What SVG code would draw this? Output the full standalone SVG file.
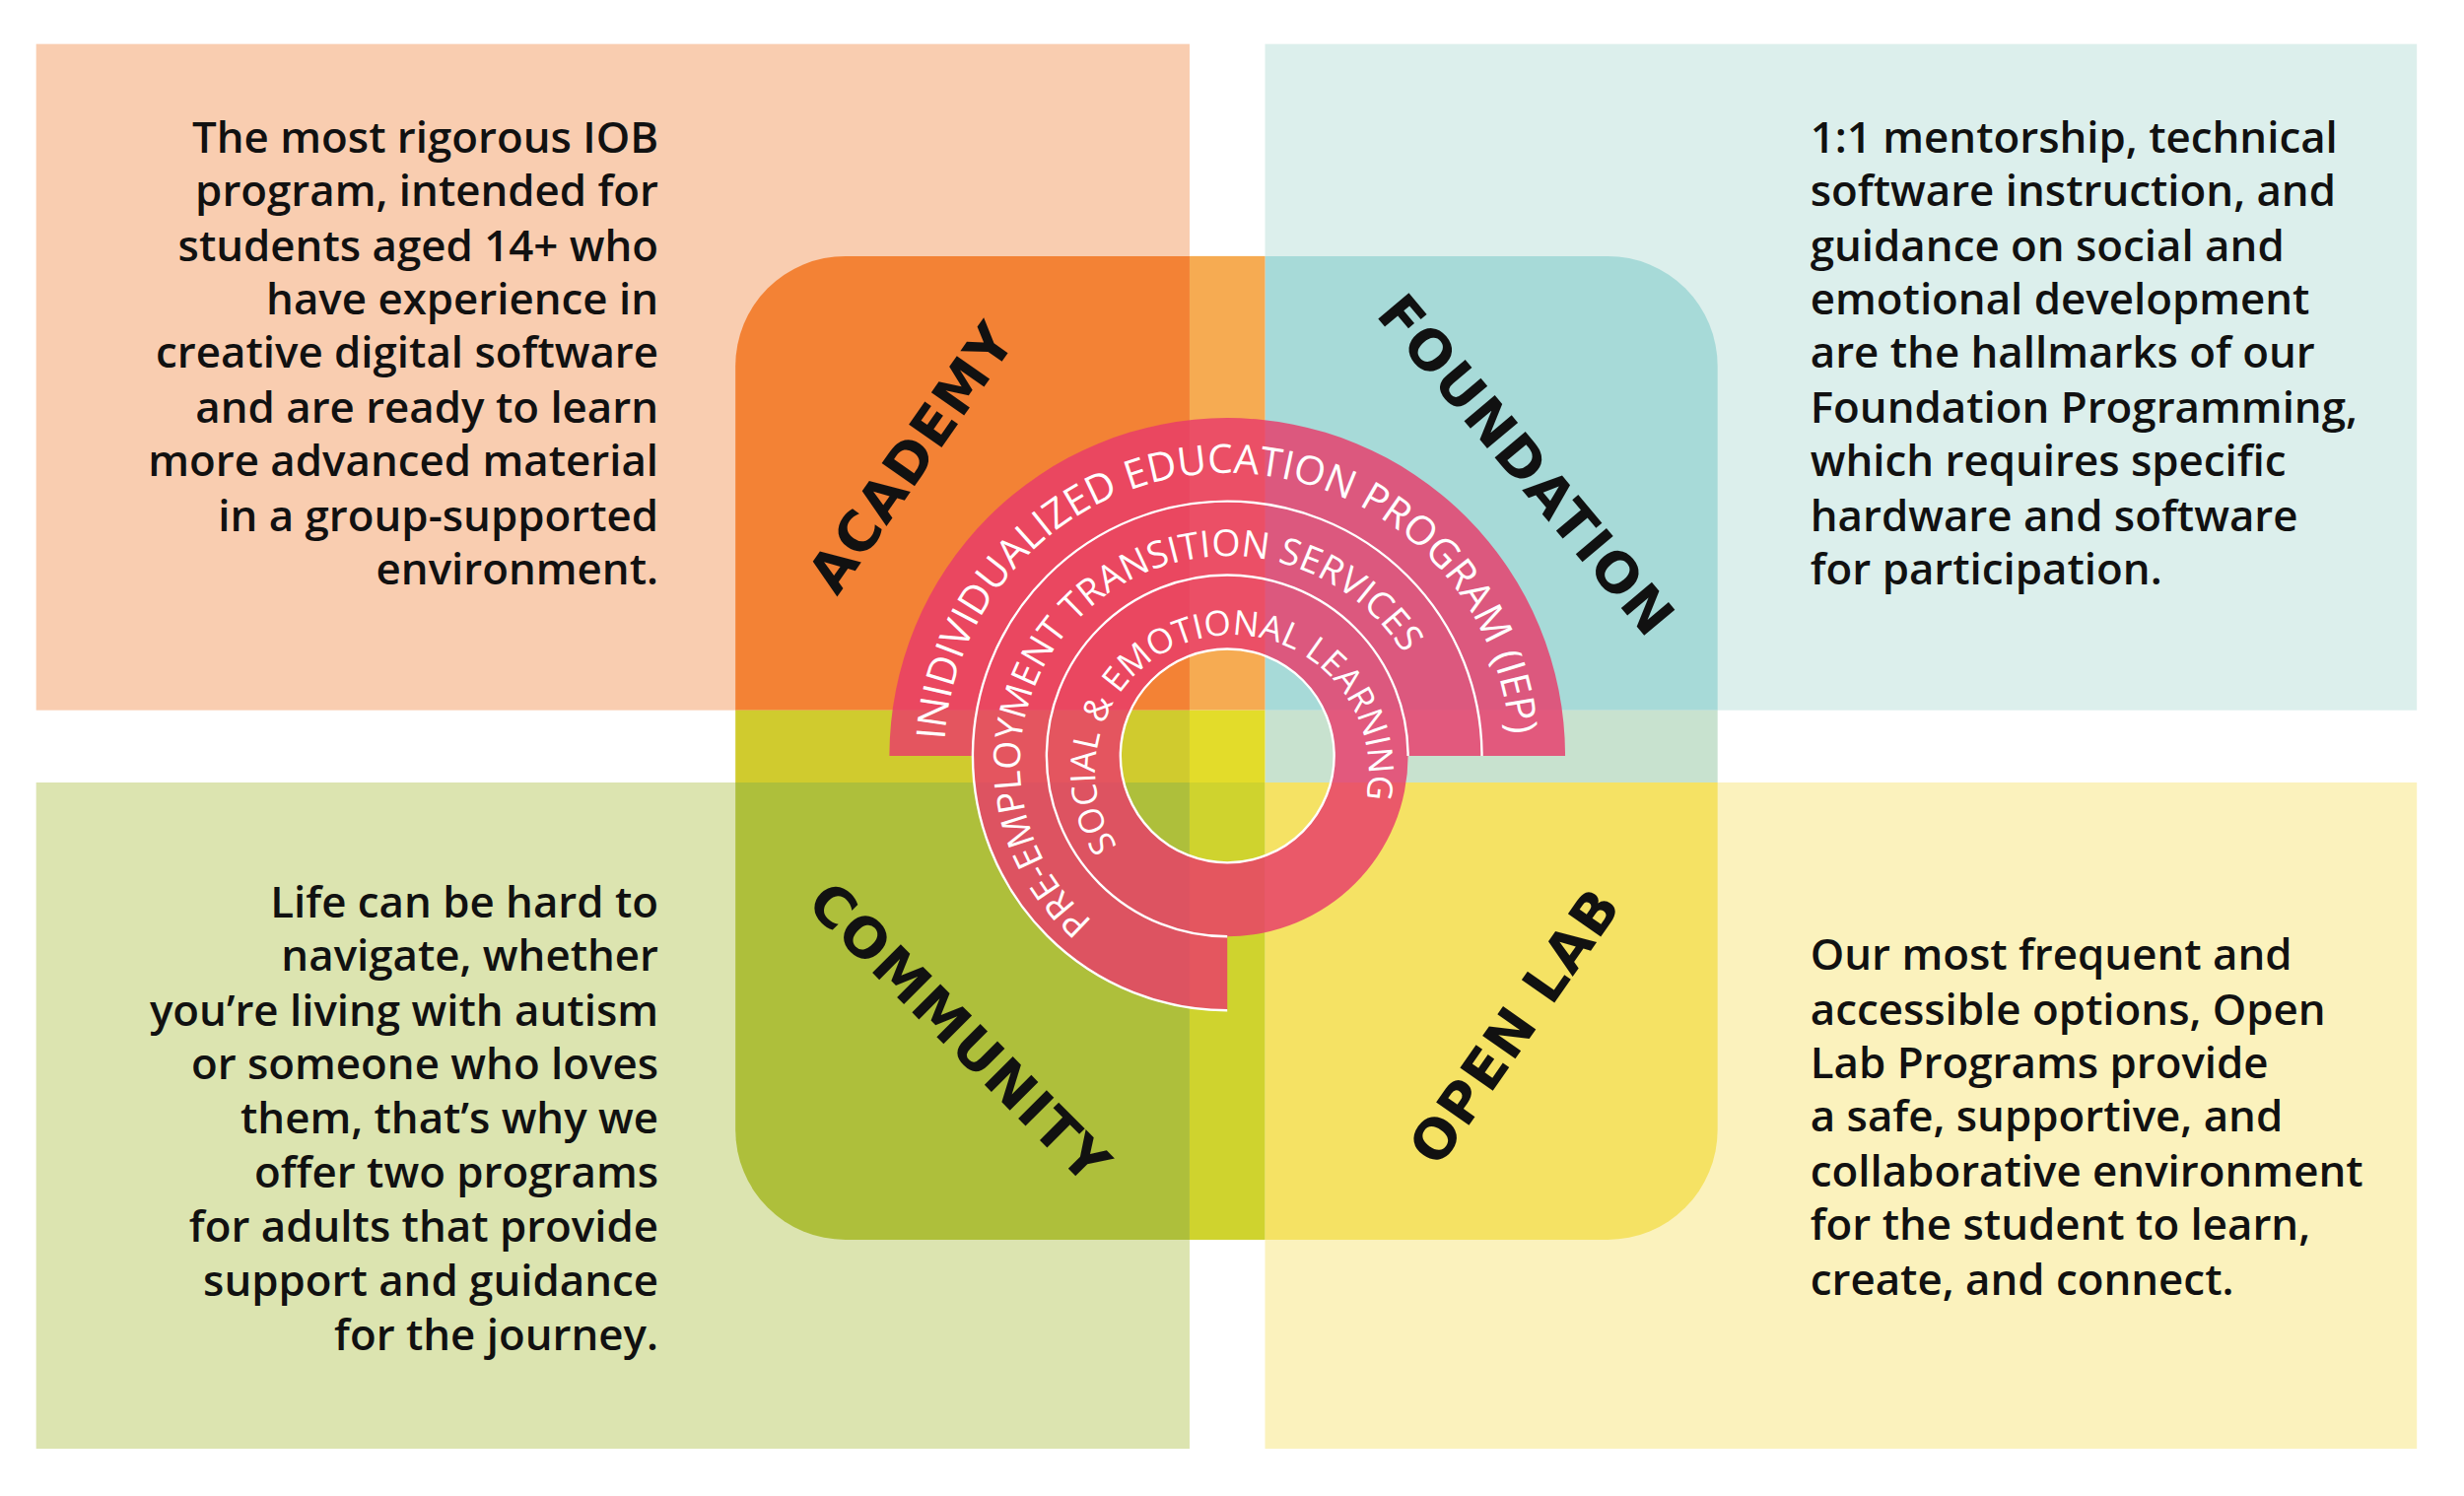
<svg xmlns="http://www.w3.org/2000/svg" width="2500" height="1518" viewBox="0 0 2500 1518">
<style>
.body{font-family:"Open Sans","Liberation Sans",sans-serif;font-size:27.5px;font-weight:600;fill:#111}
.r{text-anchor:end}
.lbl{font-family:"DejaVu Sans","Liberation Sans",sans-serif;font-weight:bold;font-size:35px;fill:#111;text-anchor:middle;letter-spacing:1px}
.ring{font-family:"Open Sans","Liberation Sans",sans-serif;fill:#fff}
.edge{fill:none;stroke:#fff;stroke-width:1.5}
</style>
<defs>
<path id="pIEP" d="M 601 481 A 180 180 0 0 1 961 481"/>
<path id="pPRE" d="M 700 590 A 132 132 0 1 1 913 481"/>
<path id="pSEL" d="M 712 540 A 87 87 0 1 1 866 520"/>
</defs>
<rect width="2500" height="1518" fill="#fff"/>
<g transform="scale(1.5944)">
<g id="bg">
<rect x="23" y="28" width="734" height="424" fill="#f9cdb0"/>
<rect x="805" y="28" width="733" height="424" fill="#dcefec"/>
<rect x="23" y="498" width="734" height="424" fill="#dce4b0"/>
<rect x="805" y="498" width="733" height="424" fill="#fbf2bd"/>
</g>
<g id="quadrants">
<path d="M538 163 H757 V452 H468 V233 A70 70 0 0 1 538 163Z" fill="#f38235"/>
<path d="M805 163 H1023 A70 70 0 0 1 1093 233 V452 H805Z" fill="#a7dad8"/>
<path d="M468 498 H757 V789 H538 A70 70 0 0 1 468 719Z" fill="#aebf3b"/>
<path d="M805 498 H1093 V719 A70 70 0 0 1 1023 789 H805Z" fill="#f5e264"/>
<rect x="757" y="163" width="48" height="289" fill="#f6ab52"/>
<rect x="757" y="498" width="48" height="291" fill="#cfd32e"/>
<rect x="468" y="452" width="289" height="46" fill="#d0cb2e"/>
<rect x="805" y="452" width="288" height="46" fill="#c8e2cf"/>
<rect x="757" y="452" width="48" height="46" fill="#e3dc2a"/>
</g>
<g id="rings" fill="#e83a6a" fill-opacity="0.82">
<path d="M566 481 A215 215 0 0 1 996 481 H943 A162 162 0 0 0 619 481Z"/>
<path d="M619 481 A162 162 0 1 1 943 481 H896 A115 115 0 1 0 781 596 V643 A162 162 0 0 1 619 481Z"/>
<path fill-rule="evenodd" d="M666 481 A115 115 0 1 0 896 481 A115 115 0 1 0 666 481Z M713 481 A68 68 0 1 0 849 481 A68 68 0 1 0 713 481Z"/>
</g>
<g id="ringEdges">
<path class="edge" d="M943 481 A162 162 0 1 0 781 643"/>
<path class="edge" d="M896 481 A115 115 0 1 0 781 596"/>
<circle class="edge" cx="781" cy="481" r="68"/>
</g>
<g id="ringText">
<text class="ring" font-size="25.5"><textPath href="#pIEP" startOffset="10">INIDIVIDUALIZED EDUCATION PROGRAM (IEP)</textPath></text>
<text class="ring" font-size="23.5"><textPath href="#pPRE" startOffset="6">PRE-EMPLOYMENT TRANSITION SERVICES</textPath></text>
<text class="ring" font-size="22"><textPath href="#pSEL" startOffset="2">SOCIAL &amp; EMOTIONAL LEARNING</textPath></text>
</g>
<g id="academy"><text class="lbl" transform="translate(590,298) rotate(-55)">ACADEMY</text></g>
<g id="foundation"><text class="lbl" transform="translate(962,304) rotate(50)">FOUNDATION</text></g>
<g id="community"><text class="lbl" transform="translate(602,666) rotate(45)">COMMUNITY</text></g>
<g id="openlab"><text class="lbl" transform="translate(974,660) rotate(-55)">OPEN LAB</text></g>
<g id="tl-text"><text class="body r">
<tspan x="419" y="97">The most rigorous IOB</tspan><tspan x="419" y="131">program, intended for</tspan><tspan x="419" y="166">students aged 14+ who</tspan><tspan x="419" y="200">have experience in</tspan><tspan x="419" y="234">creative digital software</tspan><tspan x="419" y="269">and are ready to learn</tspan><tspan x="419" y="303">more advanced material</tspan><tspan x="419" y="338">in a group-supported</tspan><tspan x="419" y="372">environment.</tspan></text></g>
<g id="tr-text"><text class="body">
<tspan x="1152" y="97">1:1 mentorship, technical</tspan><tspan x="1152" y="131">software instruction, and</tspan><tspan x="1152" y="166">guidance on social and</tspan><tspan x="1152" y="200">emotional development</tspan><tspan x="1152" y="234">are the hallmarks of our</tspan><tspan x="1152" y="269">Foundation Programming,</tspan><tspan x="1152" y="303">which requires specific</tspan><tspan x="1152" y="338">hardware and software</tspan><tspan x="1152" y="372">for participation.</tspan></text></g>
<g id="bl-text"><text class="body r">
<tspan x="419" y="584">Life can be hard to</tspan><tspan x="419" y="618">navigate, whether</tspan><tspan x="419" y="653">you’re living with autism</tspan><tspan x="419" y="687">or someone who loves</tspan><tspan x="419" y="721">them, that’s why we</tspan><tspan x="419" y="756">offer two programs</tspan><tspan x="419" y="790">for adults that provide</tspan><tspan x="419" y="825">support and guidance</tspan><tspan x="419" y="859">for the journey.</tspan></text></g>
<g id="br-text"><text class="body">
<tspan x="1152" y="617">Our most frequent and</tspan><tspan x="1152" y="652">accessible options, Open</tspan><tspan x="1152" y="686">Lab Programs provide</tspan><tspan x="1152" y="720">a safe, supportive, and</tspan><tspan x="1152" y="755">collaborative environment</tspan><tspan x="1152" y="789">for the student to learn,</tspan><tspan x="1152" y="824">create, and connect.</tspan></text></g>
</g>
</svg>
